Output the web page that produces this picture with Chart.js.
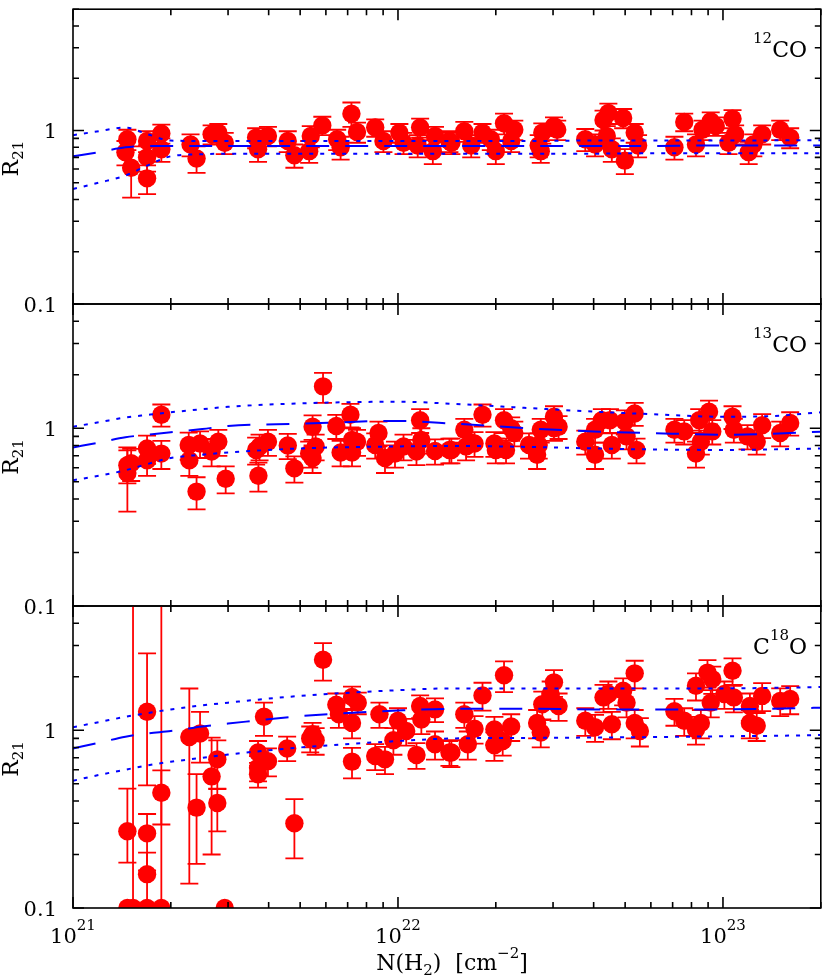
<!DOCTYPE html>
<html>
<head>
<meta charset="utf-8">
<script src="https://cdn.jsdelivr.net/npm/chart.js@4.4.1/dist/chart.umd.min.js"></script>
<style>
  html, body { margin: 0; padding: 0; background: #fff; }
  #wrap { position: relative; width: 830px; height: 978px; }
  #wrap canvas { position: absolute; left: 0; top: 0; }
</style>
</head>
<body>
<div id="wrap">
  <canvas id="p12" width="830" height="978"></canvas>
  <canvas id="p13" width="830" height="978"></canvas>
  <canvas id="p18" width="830" height="978"></canvas>
</div>
<script>
// ---- data ----
// 12CO
const x12 = [1.47e21,1.45e21,1.51e21,1.69e21,1.69e21,1.69e21,1.87e21,1.87e21,2.30e21,2.40e21,
  2.67e21,2.80e21,2.93e21,3.66e21,3.98e21,3.71e21,4.58e21,4.80e21,5.33e21,5.39e21,
  5.85e21,6.50e21,6.66e21,7.19e21,7.48e21,8.51e21,9.02e21,1.01e22,1.04e22,1.17e22,
  1.15e22,1.30e22,1.28e22,1.44e22,1.46e22,1.60e22,1.68e22,1.82e22,2.00e22,1.93e22,
  2.12e22,2.28e22,2.23e22,2.71e22,2.78e22,3.02e22,3.09e22,2.75e22,3.77e22,4.04e22,
  4.29e22,4.44e22,4.93e22,4.39e22,4.55e22,4.99e22,5.35e22,5.48e22,7.09e22,7.60e22,
  8.26e22,8.65e22,9.17e22,9.50e22,1.07e23,1.09e23,1.04e23,1.20e23,1.24e23,1.32e23,
  1.50e23,1.61e23];
const r12 = [0.89,0.75,0.61,0.87,0.70,0.53,0.96,0.78,0.83,0.69,
  0.95,0.97,0.85,0.91,0.93,0.78,0.87,0.72,0.76,0.93,
  1.07,0.89,0.80,1.25,0.98,1.04,0.87,0.97,0.85,1.04,
  0.82,0.93,0.76,0.87,0.85,0.99,0.82,0.97,0.76,0.89,
  1.10,1.01,0.87,0.82,0.97,1.06,1.01,0.76,0.89,0.83,
  1.15,1.26,1.18,0.93,0.78,0.67,0.97,0.82,0.80,1.12,
  0.83,1.01,1.13,1.06,1.17,0.95,0.85,0.75,0.83,0.95,
  1.01,0.91];
const e12 = [0.12,0.12,0.20,0.12,0.12,0.10,0.12,0.12,0.12,0.12,
  0.12,0.12,0.12,0.12,0.12,0.12,0.12,0.11,0.11,0.13,
  0.13,0.12,0.12,0.20,0.13,0.12,0.12,0.12,0.12,0.13,
  0.12,0.12,0.12,0.12,0.12,0.13,0.12,0.12,0.12,0.12,
  0.15,0.13,0.12,0.12,0.13,0.13,0.13,0.11,0.13,0.12,
  0.15,0.17,0.15,0.13,0.12,0.11,0.12,0.12,0.12,0.13,
  0.12,0.13,0.14,0.13,0.14,0.12,0.12,0.11,0.12,0.12,
  0.13,0.12];

// 13CO
const x13 = [1.47e21,1.47e21,1.51e21,1.69e21,1.69e21,1.87e21,1.87e21,2.27e21,2.28e21,2.46e21,
  2.40e21,2.67e21,2.80e21,2.95e21,3.66e21,3.75e21,3.98e21,3.72e21,4.58e21,4.80e21,
  5.33e21,5.46e21,5.58e21,5.46e21,5.88e21,6.46e21,6.66e21,7.14e21,7.22e21,7.48e21,
  7.22e21,8.71e21,8.51e21,9.12e21,9.79e21,1.04e22,1.14e22,1.17e22,1.18e22,1.30e22,
  1.44e22,1.46e22,1.60e22,1.62e22,1.72e22,1.82e22,1.98e22,2.00e22,2.12e22,2.15e22,
  2.23e22,2.28e22,2.53e22,2.68e22,2.71e22,2.75e22,3.02e22,3.12e22,3.02e22,3.77e22,
  4.04e22,4.04e22,4.24e22,4.49e22,4.55e22,4.99e22,5.05e22,5.35e22,5.42e22,7.09e22,
  7.60e22,8.26e22,8.45e22,8.55e22,9.06e22,9.27e22,1.07e23,1.08e23,1.19e23,1.27e23,
  1.32e23,1.50e23,1.61e23];
const r13 = [0.62,0.56,0.635,0.77,0.66,1.19,0.72,0.805,0.66,0.82,
  0.44,0.74,0.84,0.52,0.755,0.79,0.84,0.54,0.80,0.595,
  0.72,1.02,0.79,0.68,1.72,1.03,0.73,1.19,0.86,0.84,
  0.73,0.94,0.805,0.68,0.72,0.79,0.74,1.11,0.86,0.745,
  0.755,0.755,0.98,0.79,0.82,1.19,0.82,0.755,1.11,0.755,
  1.00,0.94,0.805,0.71,0.805,0.98,1.16,1.02,1.00,0.84,
  0.98,0.71,1.11,1.11,0.805,1.09,0.90,1.21,0.755,0.98,
  0.96,0.72,1.11,0.84,1.24,0.96,1.16,0.98,0.90,0.84,
  1.04,0.94,1.07];
const e13 = [0.13,0.22,0.13,0.14,0.12,0.17,0.13,0.14,0.12,0.14,
  0.09,0.13,0.14,0.09,0.13,0.13,0.14,0.10,0.13,0.10,
  0.12,0.16,0.13,0.12,0.33,0.16,0.12,0.18,0.14,0.14,
  0.12,0.15,0.13,0.12,0.12,0.13,0.12,0.17,0.14,0.12,
  0.12,0.12,0.15,0.13,0.13,0.17,0.13,0.12,0.17,0.12,
  0.15,0.15,0.13,0.12,0.13,0.15,0.17,0.15,0.15,0.13,
  0.15,0.12,0.17,0.17,0.13,0.17,0.14,0.18,0.12,0.15,
  0.15,0.12,0.17,0.13,0.19,0.15,0.17,0.15,0.14,0.13,
  0.16,0.15,0.16];

// C18O (error bars are not symmetric here)
const x18 = [1.47e21,1.47e21,1.53e21,1.69e21,1.69e21,1.69e21,1.69e21,1.87e21,1.87e21,2.28e21,
  2.46e21,2.40e21,2.67e21,2.78e21,2.78e21,2.93e21,3.87e21,3.71e21,3.71e21,3.71e21,
  3.98e21,4.56e21,4.80e21,5.88e21,5.37e21,5.58e21,5.46e21,6.46e21,6.58e21,7.22e21,
  7.52e21,7.22e21,7.22e21,8.77e21,8.51e21,9.12e21,9.68e21,1.00e22,1.06e22,1.14e22,
  1.17e22,1.18e22,1.30e22,1.30e22,1.44e22,1.46e22,1.60e22,1.64e22,1.72e22,1.82e22,
  1.98e22,1.98e22,2.10e22,2.12e22,2.23e22,2.68e22,2.75e22,2.78e22,3.02e22,2.95e22,
  3.12e22,3.77e22,4.04e22,4.29e22,4.44e22,4.55e22,4.93e22,5.05e22,5.35e22,5.35e22,
  5.55e22,7.09e22,7.60e22,8.26e22,8.55e22,8.26e22,8.96e22,9.27e22,9.17e22,1.01e23,
  1.07e23,1.08e23,1.21e23,1.21e23,1.27e23,1.32e23,1.50e23,1.61e23];
const r18 = [0.27,0.10,0.10,1.27,0.263,0.155,0.10,0.445,0.10,0.917,
  0.958,0.367,0.55,0.686,0.39,0.10,1.19,0.75,0.616,0.565,
  0.67,0.79,0.30,2.49,0.90,0.878,0.95,1.39,1.23,1.54,
  1.43,1.10,0.666,1.23,0.716,0.686,0.878,1.13,0.99,0.726,
  1.37,1.15,1.31,0.834,0.75,0.75,1.23,0.834,1.02,1.57,
  1.01,0.823,0.87,2.04,1.05,1.10,0.97,1.40,1.86,1.60,
  1.37,1.13,1.04,1.53,1.60,1.08,1.67,1.43,2.09,1.10,
  0.99,1.28,1.13,1.01,1.10,1.78,2.11,1.94,1.43,1.60,
  2.16,1.53,1.37,1.10,1.06,1.56,1.46,1.50];
const lo18 = [0.09,0,0.05,0.78,0.10,0.05,0,0.15,0.05,0.78,
  0.30,0.19,0.35,0.22,0.12,0,0.26,0.12,0.10,0.09,
  0.12,0.12,0.11,0.59,0.15,0.15,0.15,0.22,0.20,0.22,
  0.20,0.20,0.13,0.20,0.12,0.12,0.15,0.20,0.17,0.12,
  0.20,0.20,0.20,0.15,0.12,0.13,0.20,0.15,0.18,0.28,
  0.18,0.15,0.15,0.40,0.18,0.20,0.17,0.25,0.32,0.28,
  0.24,0.20,0.18,0.27,0.28,0.19,0.29,0.25,0.37,0.20,
  0.18,0.22,0.20,0.18,0.20,0.31,0.37,0.34,0.25,0.28,
  0.38,0.27,0.24,0.20,0.19,0.28,0.26,0.27];
const hi18 = [0.20,0,10,1.44,0.075,0.05,0,0.15,10,0.80,
  0.31,0.20,0.36,0.19,0.08,0,0.24,0.12,0.10,0.09,
  0.12,0.13,0.11,0.60,0.15,0.15,0.15,0.22,0.20,0.22,
  0.20,0.20,0.13,0.20,0.12,0.12,0.15,0.20,0.17,0.12,
  0.20,0.20,0.20,0.15,0.12,0.13,0.20,0.15,0.18,0.28,
  0.18,0.15,0.15,0.40,0.18,0.20,0.17,0.25,0.32,0.28,
  0.24,0.20,0.18,0.27,0.28,0.19,0.29,0.25,0.37,0.20,
  0.18,0.22,0.20,0.18,0.20,0.31,0.37,0.34,0.25,0.28,
  0.38,0.27,0.24,0.20,0.19,0.28,0.26,0.27];

// fitted ratio (dashed) and its range (dotted), sampled at curveX
const curveX = [1e21,1.2e21,1.45e21,1.7e21,2e21,2.5e21,3e21,5e21,1e22,1.5e22,2.5e22,4e22,6e22,1e23,1.4e23,2e23];
const fit12 = [0.71,0.75,0.80,0.815,0.815,0.815,0.815,0.815,0.815,0.815,0.815,0.815,0.815,0.82,0.82,0.82];
const up12  = [0.94,0.99,1.04,0.95,0.875,0.87,0.87,0.87,0.87,0.87,0.87,0.875,0.875,0.875,0.877,0.877];
const dn12  = [0.46,0.50,0.55,0.63,0.71,0.73,0.735,0.735,0.735,0.735,0.735,0.735,0.74,0.74,0.74,0.74];
const fit13 = [0.78,0.83,0.89,0.92,0.95,0.99,1.03,1.06,1.10,1.06,1.00,0.96,0.94,0.92,0.93,0.957];
const up13  = [1.02,1.08,1.15,1.19,1.23,1.28,1.32,1.38,1.41,1.37,1.30,1.24,1.20,1.16,1.17,1.23];
const dn13  = [0.51,0.54,0.58,0.63,0.68,0.71,0.73,0.77,0.79,0.795,0.785,0.77,0.76,0.755,0.76,0.77];
const fit18 = [0.79,0.85,0.92,0.96,0.99,1.05,1.09,1.20,1.29,1.32,1.32,1.31,1.31,1.31,1.32,1.34];
const up18  = [1.04,1.11,1.19,1.25,1.31,1.38,1.43,1.56,1.68,1.72,1.72,1.72,1.72,1.72,1.73,1.75];
const dn18  = [0.52,0.56,0.60,0.635,0.665,0.70,0.73,0.80,0.87,0.90,0.905,0.91,0.915,0.925,0.93,0.94];

// axes
const xMin = 1e21, xMax = 2e23, yMin = 0.1, yMax = 5;
const xLabelVals = [1e21, 1e22, 1e23];
const xLabelExp = ['21', '22', '23'];
const yLabelVals = [0.1, 1];
const yLabels = ['0.1', '1'];

const RED = '#ff0000';
const BLUE = '#0000ff';
const FONT = '"DejaVu Serif", serif';

// text made of pieces: [text, size, dy]
function drawPieces(ctx, x, y, pieces, align) {
  let w = 0;
  pieces.forEach(p => { ctx.font = p[1] + 'px ' + FONT; w += ctx.measureText(p[0]).width; });
  let cx = align === 'right' ? x - w : align === 'center' ? x - w / 2 : x;
  pieces.forEach(p => {
    ctx.font = p[1] + 'px ' + FONT;
    ctx.fillText(p[0], cx, y + p[2]);
    cx += ctx.measureText(p[0]).width;
  });
}

const panelPlugin = {
  id: 'panel',
  beforeDatasetsDraw(chart) {
    // error bars under the circles
    const { ctx, chartArea: a, scales: { x, y } } = chart;
    ctx.save();
    ctx.beginPath();
    ctx.rect(a.left, a.top, a.right - a.left, a.bottom - a.top);
    ctx.clip();
    ctx.strokeStyle = RED;
    ctx.lineWidth = 1.8;
    chart.data.datasets.forEach(ds => {
      if (!ds.errLo) return;
      ds.data.forEach((p, i) => {
        const l = ds.errLo[i], h = ds.errHi[i];
        if (!l && !h) return;
        const px = x.getPixelForValue(p.x);
        const yTop = y.getPixelForValue(p.y + h);
        const low = p.y - l;
        const yBot = low > 0 ? y.getPixelForValue(low) : a.bottom + 20;
        ctx.beginPath();
        ctx.moveTo(px, yTop); ctx.lineTo(px, yBot);
        ctx.moveTo(px - 9, yTop); ctx.lineTo(px + 9, yTop);
        if (low > 0) { ctx.moveTo(px - 9, yBot); ctx.lineTo(px + 9, yBot); }
        ctx.stroke();
      });
    });
    ctx.restore();
  },
  afterDraw(chart, args, opts) {
    const { ctx, chartArea: a, scales: { x, y } } = chart;
    ctx.save();
    ctx.strokeStyle = '#000';
    ctx.lineWidth = 1.6;
    ctx.strokeRect(a.left, a.top, a.right - a.left, a.bottom - a.top);

    // inward ticks on all four sides
    ctx.beginPath();
    [1e21, 1e22, 1e23].forEach(d => {
      for (let m = 1; m <= 9; m++) {
        const v = m * d;
        if (v > xMax) break;
        const len = m === 1 ? 11 : 6;
        const px = x.getPixelForValue(v);
        ctx.moveTo(px, a.bottom); ctx.lineTo(px, a.bottom - len);
        ctx.moveTo(px, a.top); ctx.lineTo(px, a.top + len);
      }
    });
    [0.1, 1].forEach(d => {
      for (let m = 1; m <= 9; m++) {
        const v = m * d;
        if (v > yMax + 1e-9) break;
        const len = m === 1 ? 11 : 6;
        const py = y.getPixelForValue(v);
        ctx.moveTo(a.left, py); ctx.lineTo(a.left + len, py);
        ctx.moveTo(a.right, py); ctx.lineTo(a.right - len, py);
      }
    });
    ctx.stroke();

    ctx.fillStyle = '#000';
    ctx.textBaseline = 'alphabetic';
    // y tick labels
    yLabelVals.forEach((v, i) => {
      ctx.font = '21px ' + FONT;
      ctx.textAlign = 'right';
      ctx.fillText(yLabels[i], 57, y.getPixelForValue(v) + 7.5);
    });
    ctx.textAlign = 'left';

    // y title, rotated
    ctx.save();
    ctx.translate(18, (a.top + a.bottom) / 2 + 2);
    ctx.rotate(-Math.PI / 2);
    drawPieces(ctx, 0, 0, [['R', 22, 0], ['21', 15, 5]], 'center');
    ctx.restore();

    // molecule name
    drawPieces(ctx, 807, a.top + 48, opts.name, 'right');

    if (opts.xLabels) {
      xLabelVals.forEach((v, i) => {
        drawPieces(ctx, x.getPixelForValue(v), a.bottom + 35,
          [['10', 21, 0], [xLabelExp[i], 15, -13]], 'center');
      });
      drawPieces(ctx, 452, 970,
        [['N(H', 22, 0], ['2', 15, 5], [')  [cm', 22, 0], ['\u22122', 15, -12], [']', 22, 0]], 'center');
    }
    ctx.restore();
  }
};

function curve(ys, dash) {
  return {
    type: 'line',
    data: curveX.map((v, i) => ({ x: v, y: ys[i] })),
    borderColor: BLUE,
    borderWidth: 2,
    borderDash: dash,
    pointRadius: 0,
    cubicInterpolationMode: 'monotone',
    fill: false,
    order: 1,
    clip: 0
  };
}

function makePanel(id, top, bottom, xs, ys, lo, hi, fit, up, dn, name, xLabels) {
  new Chart(document.getElementById(id), {
    type: 'scatter',
    data: {
      datasets: [
        curve(up, [4, 7]),
        curve(fit, [23, 16]),
        curve(dn, [4, 7]),
        {
          data: xs.map((v, i) => ({ x: v, y: ys[i] })),
          errLo: lo,
          errHi: hi,
          pointRadius: 9.2,
          backgroundColor: RED,
          borderWidth: 0,
          order: 2,
          clip: 0
        }
      ]
    },
    options: {
      responsive: false,
      animation: false,
      events: [],
      layout: { padding: { left: 73, right: 1, top: top, bottom: 978 - bottom } },
      plugins: {
        legend: { display: false },
        tooltip: { enabled: false },
        panel: { name: name, xLabels: xLabels }
      },
      scales: {
        x: { type: 'logarithmic', min: xMin, max: xMax, display: false },
        y: { type: 'logarithmic', min: yMin, max: yMax, display: false }
      }
    },
    plugins: [panelPlugin]
  });
}

makePanel('p12', 2, 304, x12, r12, e12, e12, fit12, up12, dn12,
  [['12', 15, -14], ['CO', 22, 0]], false);
makePanel('p13', 304, 606, x13, r13, e13, e13, fit13, up13, dn13,
  [['13', 15, -14], ['CO', 22, 0]], false);
makePanel('p18', 606, 908, x18, r18, lo18, hi18, fit18, up18, dn18,
  [['C', 22, 0], ['18', 15, -14], ['O', 22, 0]], true);
</script>
</body>
</html>
